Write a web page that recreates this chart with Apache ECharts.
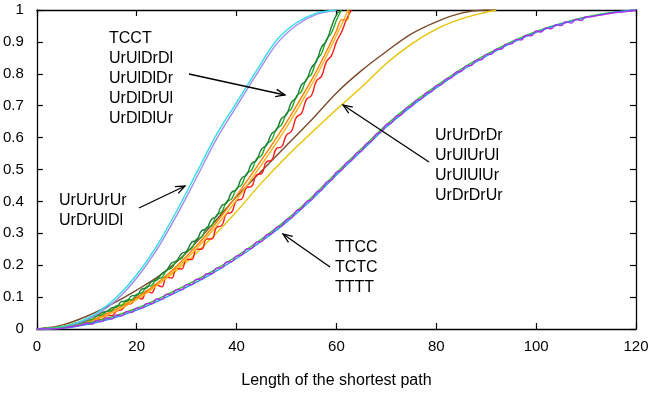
<!DOCTYPE html>
<html><head><meta charset="utf-8">
<script src="https://cdn.jsdelivr.net/npm/echarts/dist/echarts.min.js"></script>
<style>html,body{margin:0;padding:0;background:#fff}#c{width:671px;height:394px}</style>
</head><body><div id="c"></div>
<script>
// ---------- axis ----------
const xMin = 0, xMax = 120, xStep = 20;
const yMin = 0, yMax = 1, yStep = 0.1;
const xTitle = 'Length of the shortest path';

// ---------- group 1 (UrUrUrUr, UrDrUlDl) ----------
const g1X = [0,4,8,12,16,20,24,28,32,36,40,44,48,52,56,60];
const UrUrUrUr = [0,0.004,0.02,0.05,0.1,0.17,0.26,0.37,0.49,0.61,0.71,0.81,0.905,0.96,0.99,1];
const UrDrUlDl = [0,0.003,0.017,0.045,0.092,0.16,0.248,0.356,0.475,0.596,0.698,0.798,0.893,0.952,0.986,1];

// ---------- group 2 (values at lengths 0,1,2,...) ----------
const TCCT = [0,0.001,0.002,0.003,0.005,0.006,0.009,0.013,0.019,0.019,
  0.027,0.030,0.041,0.044,0.055,0.058,0.073,0.074,0.091,0.092,
  0.109,0.113,0.133,0.137,0.157,0.161,0.184,0.191,0.214,0.221,
  0.244,0.252,0.282,0.288,0.318,0.324,0.357,0.366,0.399,0.408,
  0.441,0.452,0.487,0.498,0.533,0.544,0.580,0.592,0.628,0.640,
  0.676,0.691,0.730,0.745,0.784,0.799,0.843,0.863,0.907,0.928,
  0.968,1];
const UrUlDrDl = [0,0.001,0.002,0.003,0.005,0.006,0.009,0.013,0.017,0.023,
  0.027,0.038,0.041,0.052,0.055,0.066,0.069,0.086,0.087,0.104,
  0.105,0.125,0.129,0.149,0.153,0.173,0.184,0.207,0.214,0.237,
  0.244,0.272,0.278,0.308,0.314,0.344,0.353,0.386,0.395,0.428,
  0.437,0.472,0.483,0.518,0.529,0.564,0.576,0.612,0.624,0.660,
  0.672,0.711,0.726,0.765,0.780,0.819,0.839,0.883,0.903,0.947,
  0.985,1];
const UrDlDlUr = [0,0.001,0.001,0.002,0.003,0.004,0.006,0.008,0.011,0.013,
  0.019,0.019,0.030,0.030,0.042,0.042,0.057,0.061,0.076,0.080,
  0.100,0.094,0.119,0.113,0.138,0.132,0.162,0.160,0.190,0.188,
  0.218,0.218,0.250,0.250,0.282,0.282,0.319,0.324,0.361,0.366,
  0.403,0.407,0.443,0.447,0.483,0.487,0.524,0.529,0.566,0.571,
  0.608,0.620,0.664,0.676,0.720,0.732,0.778,0.792,0.838,0.857,
  0.9,0.93,0.97,1];
const oX = [0,5,10,15,20,25,30,35,40,45,50,55,58,60,61,62.2,62.5];
const UrUlDlDr = [0,0.005,0.022,0.055,0.098,0.155,0.228,0.315,0.418,0.53,0.648,0.78,0.87,0.935,0.969,0.969,1];
const gX = [0,5,10,15,20,25,30,35,40,45,50,55,58,60,61.5,62.3];
const UrDlDrUl = [0,0.004,0.02,0.05,0.092,0.148,0.22,0.305,0.405,0.515,0.632,0.765,0.855,0.92,0.97,1];

// ---------- group 3 ----------
const g3X = [0,5,10,15,20,25,30,35,40,45,50,55,60,65,70,75,80,85,90,92];
const UrUrDrDr = [0,0.012,0.04,0.078,0.122,0.172,0.24,0.325,0.415,0.495,0.575,0.655,0.74,0.81,0.87,0.925,0.963,0.99,1,1];
const UrUlUlUr = [0,0.008,0.03,0.062,0.1,0.148,0.21,0.285,0.368,0.458,0.54,0.615,0.688,0.758,0.832,0.893,0.94,0.972,0.993,1];

// ---------- group 4 ----------
const g4X = [0,5,10,15,20,25,30,35,40,45,50,55,60,65,70,75,80,85,90,95,100,105,110,115,120];
const TTCC = [0,0.004,0.018,0.038,0.065,0.1,0.138,0.18,0.228,0.282,0.342,0.412,0.49,0.565,0.64,0.705,0.762,0.815,0.86,0.9,0.933,0.958,0.978,0.992,1];
const TCTC = [0,0.002,0.014,0.033,0.059,0.093,0.131,0.173,0.221,0.275,0.335,0.405,0.483,0.558,0.633,0.698,0.756,0.809,0.855,0.896,0.93,0.956,0.976,0.991,1];
const TTTT = [0,0,0,0,0.001,0.002,0.005,0.008,0.01,0.013,
  0.019,0.015,0.027,0.023,0.035,0.031,0.044,0.041,0.055,0.052,
  0.066,0.065,0.080,0.079,0.094,0.093,0.109,0.108,0.124,0.123,
  0.139,0.139,0.156,0.156,0.173,0.173,0.191,0.192,0.210,0.211,
  0.229,0.232,0.251,0.253,0.272,0.275,0.295,0.299,0.319,0.323,
  0.343,0.349,0.371,0.377,0.399,0.405,0.429,0.436,0.460,0.467,
  0.491,0.498,0.521,0.528,0.551,0.558,0.581,0.588,0.611,0.618,
  0.641,0.646,0.667,0.672,0.693,0.698,0.717,0.721,0.740,0.744,
  0.763,0.766,0.784,0.787,0.805,0.808,0.825,0.826,0.843,0.844,
  0.861,0.861,0.877,0.877,0.893,0.893,0.908,0.906,0.921,0.919,
  0.934,0.931,0.944,0.941,0.954,0.951,0.963,0.959,0.971,0.967,
  0.979,0.979,0.982,0.984,0.987,0.990,0.992,0.993,0.995,0.997,1];

// ---------- annotations ----------
const labels2 = ['TCCT','UrUlDrDl','UrUlDlDr','UrDlDrUl','UrDlDlUr'];
const labels1 = ['UrUrUrUr','UrDrUlDl'];
const labels3 = ['UrUrDrDr','UrUlUrUl','UrUlUlUr','UrDrDrUr'];
const labels4 = ['TTCC','TCTC','TTTT'];

const FONT = 'Liberation Sans, Arial, Helvetica, sans-serif';
const pair = (xs, ys) => ys.map((v, i) => [xs[i], v]);
const idx = ys => ys.map((v, i) => [i, v]);

function line(name, data, color, smooth) {
  return { name, type: 'line', data, showSymbol: false, symbol: 'none',
    smooth: smooth, lineStyle: { color, width: 1.4 }, itemStyle: { color }, animation: false, z: 3 };
}

const series = [
  line('UrUrDrDr / UrUlUrUl', pair(g3X, UrUrDrDr), '#7b4a2a', 0.3),
  line('UrUlUlUr / UrDrDrUr', pair(g3X, UrUlUlUr), '#e8c400', 0.3),
  line('UrDlDlUr', idx(UrDlDlUr), '#ff1a1a', 0.5),
  line('UrDlDrUl', pair(gX, UrDlDrUl), '#ffb31a', 0.25),
  line('UrUlDlDr', pair(oX, UrUlDlDr), '#ff8000', 0.25),
  line('TCCT', idx(TCCT), '#22aa22', 0.5),
  line('UrUlDrDl', idx(UrUlDrDl), '#1b7f3a', 0.5),
  line('UrDrUlDl', pair(g1X, UrDrUlDl), '#a08cf0', 0.3),
  line('UrUrUrUr', pair(g1X, UrUrUrUr), '#33dde8', 0.3),
  line('TTCC', pair(g4X, TTCC), '#33bb33', 0.3),
  line('TCTC', pair(g4X, TCTC), '#2a8ff0', 0.3),
  line('TTTT', idx(TTTT), '#b030ec', 0.5)
];

function textBlock(lines, left, top, gap) {
  return lines.map((t, i) => ({ type: 'text', left: left, top: top + i * gap - 9, z: 10,
    style: { text: t, font: '16px ' + FONT, fill: '#000' } }));
}
function arrow(x1, y1, x2, y2) {
  const a = Math.atan2(y2 - y1, x2 - x1), L = 10, w = 0.38;
  return [
    { type: 'line', z: 10, shape: { x1, y1, x2, y2 }, style: { stroke: '#000', lineWidth: 1.3 } },
    { type: 'polyline', z: 10, shape: { points: [
      [x2 - L * Math.cos(a - w), y2 - L * Math.sin(a - w)], [x2, y2],
      [x2 - L * Math.cos(a + w), y2 - L * Math.sin(a + w)]] },
      style: { stroke: '#000', lineWidth: 1.3, fill: null } }
  ];
}

const graphics = [].concat(
  textBlock(labels2, 109, 40, 19.8),
  textBlock(labels1, 59, 202, 20),
  textBlock(labels3, 435, 137, 20),
  textBlock(labels4, 335, 249, 20),
  arrow(189, 74, 285, 95),
  arrow(139, 208, 185, 186),
  arrow(429, 162, 343, 105),
  arrow(330, 267, 283, 234)
);

const axisCommon = {
  type: 'value', splitLine: { show: false },
  axisLine: { show: true, onZero: false, lineStyle: { color: '#000', width: 1.3 } },
  axisTick: { show: true, inside: true, length: 6, lineStyle: { color: '#000', width: 1.2 } }
};

const chart = echarts.init(document.getElementById('c'), null, { renderer: 'canvas' });
chart.setOption({
  animation: false,
  backgroundColor: '#fff',
  grid: { left: 35, right: 35, top: 10, bottom: 65 },
  xAxis: [
    Object.assign({}, axisCommon, { min: xMin, max: xMax, interval: xStep, position: 'bottom',
      name: xTitle, nameLocation: 'middle', nameGap: 44,
      nameTextStyle: { fontFamily: FONT, fontSize: 16, color: '#000' },
      axisLabel: { fontFamily: FONT, fontSize: 15, color: '#000', margin: 10 } }),
    Object.assign({}, axisCommon, { min: xMin, max: xMax, interval: xStep, position: 'top',
      axisLabel: { show: false } })
  ],
  yAxis: [
    Object.assign({}, axisCommon, { min: yMin, max: yMax, interval: yStep, position: 'left',
      axisLabel: { fontFamily: FONT, fontSize: 15, color: '#000', margin: 13 } }),
    Object.assign({}, axisCommon, { min: yMin, max: yMax, interval: yStep, position: 'right',
      axisLabel: { show: false } })
  ],
  series: series,
  graphic: graphics
});
</script></body></html>
